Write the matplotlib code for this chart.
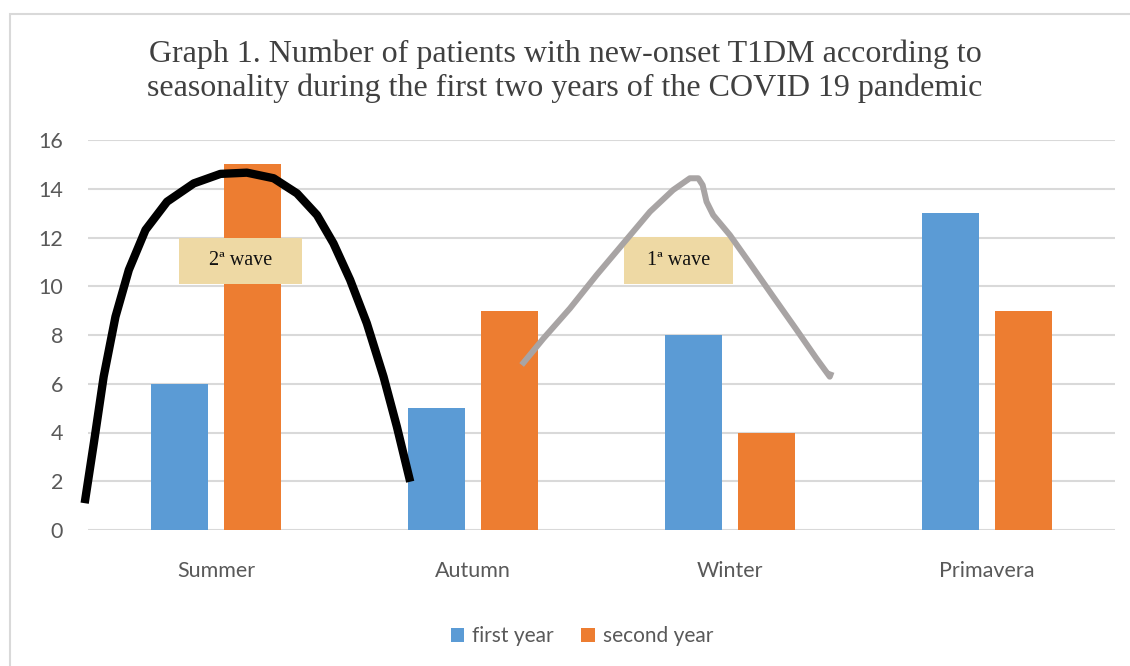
import numpy as np
import matplotlib
matplotlib.use("Agg")
import matplotlib.pyplot as plt
from matplotlib.patches import Rectangle

seasons = ["Summer", "Autumn", "Winter", "Primavera"]
first_year = [6, 5, 8, 13]
second_year = [15, 9, 4, 9]
y_ticks = [0, 2, 4, 6, 8, 10, 12, 14, 16]

# hand-drawn wave marks, in data units (x = category position, y = patients)
wave2_x = [-0.513, -0.477, -0.439, -0.393, -0.341, -0.276, -0.192, -0.088, 0.016, 0.119,
           0.223, 0.314, 0.392, 0.456, 0.521, 0.586, 0.651, 0.703, 0.755]
wave2_y = [1.1, 3.58, 6.29, 8.75, 10.67, 12.31, 13.47, 14.22, 14.61, 14.66,
           14.43, 13.81, 12.92, 11.76, 10.26, 8.48, 6.29, 4.24, 1.98]
wave1_x = [1.189, 1.274, 1.377, 1.481, 1.585, 1.689, 1.779, 1.844, 1.877, 1.894, 1.909,
           1.935, 2.000, 2.078, 2.169, 2.260, 2.337, 2.389, 2.396]
wave1_y = [6.77, 7.86, 9.09, 10.46, 11.76, 13.06, 13.95, 14.43, 14.43, 14.15, 13.47,
           12.92, 12.10, 10.94, 9.57, 8.21, 7.04, 6.29, 6.49]
wave_labels = ["2ª wave", "1ª wave"]
wave_label_x = [0.093, 1.799]
wave_label_y = [11.04, 11.06]

blue = "#5b9bd5"
orange = "#ed7d31"
grid_c = "#d9d9d9"
text_c = "#595959"

fig = plt.figure(figsize=(11.3, 6.66), dpi=100)
fig.patches.append(Rectangle((10 / 1130, -0.1), 1.2, 1 - 14 / 666 + 0.1,
                             transform=fig.transFigure, fill=False,
                             edgecolor=grid_c, linewidth=1.5))
ax = fig.add_axes([88 / 1130, 1 - 530 / 666, 1027 / 1130, 390 / 666])

x = np.arange(len(seasons))
w = 0.222
ax.bar(x - 0.142, first_year, w, color=blue, label="first year", zorder=2)
ax.bar(x + 0.142, second_year, w, color=orange, label="second year", zorder=2)

ax.plot(wave2_x, wave2_y, color="black", lw=6, solid_capstyle="butt",
        solid_joinstyle="round", zorder=4, clip_on=False)
ax.plot(wave1_x, wave1_y, color="#a8a4a4", lw=4.3, solid_capstyle="butt",
        solid_joinstyle="round", zorder=4, clip_on=False)

for lbl, lx, ly, bw in zip(wave_labels, wave_label_x, wave_label_y, [0.479, 0.423]):
    ax.add_patch(Rectangle((lx - bw / 2, ly - 0.95), bw, 1.9, facecolor="#eed9a4",
                           edgecolor="none", zorder=3))
    ax.text(lx, ly, lbl, ha="center", va="center", fontsize=14.5,
            family="Liberation Serif", color="#111111", zorder=5)

ax.set_xlim(-0.5, 3.5)
ax.set_ylim(0, 16)
ax.set_yticks(y_ticks)
ax.set_xticks(x)
ax.set_xticklabels(seasons)
for s in ax.spines.values():
    s.set_visible(False)
ax.grid(axis="y", color=grid_c, lw=1.5, zorder=0)
ax.tick_params(axis="both", length=0, labelsize=15.5, labelcolor=text_c)
ax.tick_params(axis="y", pad=18)
ax.tick_params(axis="x", pad=22)
for t in ax.get_xticklabels() + ax.get_yticklabels():
    t.set_family("Lato")

fig.text(0.5, 1 - 71 / 666,
         "Graph 1. Number of patients with new-onset T1DM according to\n"
         "seasonality during the first two years of the COVID 19 pandemic",
         ha="center", va="center", fontsize=23, family="Liberation Serif",
         color="#404040", linespacing=1.2)

leg = fig.legend(loc="center", bbox_to_anchor=(0.515, 1 - 636 / 666), ncol=2,
                 frameon=False, handlelength=0.65, handleheight=0.65,
                 columnspacing=1.3, handletextpad=0.4,
                 prop={"family": "Lato", "size": 15})
for t in leg.get_texts():
    t.set_color(text_c)

fig.savefig("out.png", dpi=100)
